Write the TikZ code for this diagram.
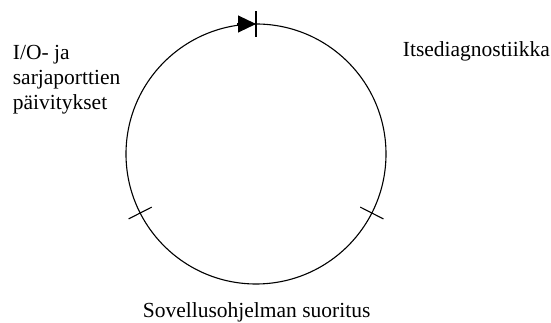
\documentclass[tikz,border=0pt]{standalone}
\usepackage{fontspec}
\setmainfont{Liberation Serif}
\usetikzlibrary{arrows.meta,calc}
\tikzset{cyc/.style={x=1pt,y=1pt,line width=1.1pt,font=\fontsize{21.5}{25}\selectfont}}

\begin{document}
\begin{tikzpicture}[cyc]
    \useasboundingbox (0,0) rectangle (551,323);
    \def\r{130}
    \coordinate (c) at (256,169);
    \draw (c) circle (\r);
    \foreach \a in {90,207,333} \draw ($(c)+(\a:{\r-13})$) -- ($(c)+(\a:{\r+13})$);
    \coordinate (tip) at ($(c)+(90:\r)$);
    \draw[-{Triangle[length=18pt,width=17pt]}] ($(tip)+(-19,0)$) -- (tip);
    \node[anchor=base west,align=left] (io) at (9,213) {I/O- ja\\sarjaporttien\\päivitykset};
    \node[anchor=base west] (diag) at (399,266) {Itsediagnostiikka};
    \node[anchor=base west] (app) at (139,5) {Sovellusohjelman suoritus};
  \end{tikzpicture}
\end{document}
